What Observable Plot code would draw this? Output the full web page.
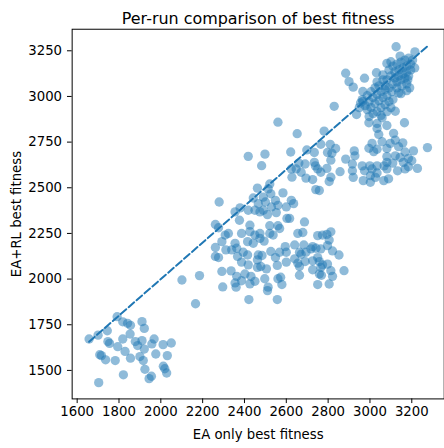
<!DOCTYPE html>
<html><head><meta charset="utf-8">
<script src="https://cdn.jsdelivr.net/npm/d3@7"></script>
<script src="https://cdn.jsdelivr.net/npm/@observablehq/plot@0.6"></script>
<style>
html,body{margin:0;padding:0;background:#fff;overflow:hidden;}
#chart{width:444px;height:448px;overflow:hidden;}
#chart [aria-label$="tick label"]{font-size:13.4px;}
</style>
</head><body><div id="chart"></div>
<script>
const titleText = "Per-run comparison of best fitness";
const xLabel = "EA only best fitness";
const yLabel = "EA+RL best fitness";
const xTicks = [1600, 1800, 2000, 2200, 2400, 2600, 2800, 3000, 3200];
const yTicks = [1500, 1750, 2000, 2250, 2500, 2750, 3000, 3250];
const diagonal = [1657, 3276];

// [EA only, EA+RL] per run
const runsLow = [[1657,1672],[1700,1693],[1744,1717],[1791,1794],[1818,1766],[1841,1758],[1855,1747],[1910,1767],[1921,1730],[1708,1586],[1747,1658],[1755,1648],[1794,1630],[1818,1672],[1853,1699],[1878,1658],[1889,1636],[1910,1663],[1921,1617],[1968,1672],[1957,1645],[2011,1641],[2050,1650],[1829,1604],[1716,1581],[1736,1558],[1782,1554],[1855,1567],[1900,1576],[1916,1554],[1976,1590],[2031,1581],[1924,1506],[2012,1523],[2019,1509],[2028,1486],[1821,1476],[1955,1468],[1944,1455],[1703,1433]];

const runsMidUpper = [[2418,2672],[2498,2684],[2482,2621],[2621,2696],[2698,2707],[2734,2693],[2660,2635],[2690,2630],[2734,2639],[2624,2603],[2647,2603],[2671,2585],[2627,2558],[2694,2553],[2726,2545],[2741,2490],[2279,2422],[2521,2521],[2513,2494],[2462,2498],[2526,2467],[2584,2472],[2442,2444],[2490,2449],[2500,2422],[2548,2431],[2560,2404],[2529,2395],[2600,2395],[2624,2431],[2635,2413],[2466,2413],[2450,2377],[2474,2368],[2490,2377],[2510,2353],[2552,2364],[2603,2332],[2616,2332],[2418,2377],[2355,2368],[2379,2390],[2376,2322],[2426,2295],[2521,2292],[2560,2292],[2568,2277],[2687,2313],[2679,2255],[2655,2250],[2261,2299],[2276,2281],[2323,2250],[2386,2250],[2450,2241],[2474,2250],[2521,2250],[2308,2241]];

const runsMidLower = [[2426,2260],[2537,2241],[2474,2223],[2292,2205],[2355,2196],[2415,2205],[2442,2196],[2494,2208],[2261,2173],[2311,2160],[2339,2160],[2363,2169],[2394,2147],[2415,2132],[2466,2132],[2484,2129],[2526,2151],[2548,2118],[2568,2147],[2600,2147],[2595,2178],[2640,2187],[2684,2187],[2726,2178],[2663,2147],[2694,2147],[2261,2124],[2276,2118],[2367,2124],[2386,2093],[2418,2078],[2462,2105],[2478,2069],[2505,2056],[2557,2075],[2600,2093],[2640,2111],[2655,2087],[2690,2096],[2726,2100],[2292,2042],[2336,2045],[2363,2015],[2402,2028],[2431,2015],[2462,2064],[2663,2021],[2726,2051],[2185,2019],[2355,1979],[2386,1991],[2426,1974],[2450,1988],[2497,2002],[2560,2002],[2573,2010],[2579,1970],[2513,1956],[2510,1937],[2296,1957],[2360,1956],[2166,1865],[2421,1888],[2557,1888],[2101,1995],
[2750,2238],[2773,2241],[2794,2245],[2813,2259],[2805,2214],[2718,2165],[2742,2169],[2765,2165],[2797,2183],[2821,2154],[2852,2132],[2671,2136],[2750,2118],[2758,2096],[2773,2078],[2797,2082],[2663,2069],[2765,2064],[2813,2046],[2876,2046],[2758,2028],[2768,2021],[2821,2015],[2750,1970],[2805,1973]];

const runsMidRight = [[2829,2946],[2560,2859],[2652,2796],[2781,2810],[2765,2738],[2810,2738],[2797,2693],[2818,2689],[2836,2715],[2813,2651],[2739,2620],[2750,2603],[2794,2606],[2765,2585],[2857,2588],[2813,2558],[2805,2534],[2758,2485],
[2966,2973],[2936,2901],[2995,2856],[3034,2852],[3081,2841],[3165,2856],[3034,2825],[3042,2792],[3113,2798],[3058,2752],[3097,2743],[3121,2761],[3157,2746],[3137,2725],[3010,2743],[2995,2716],[3018,2698],[3034,2711],[3081,2715],[3168,2696],[3208,2702],[3275,2720],[2925,2702],[2928,2675],[2884,2657],[3081,2671],[3121,2675],[3144,2666],[3184,2661],[3081,2639],[3109,2635],[3160,2639],[3200,2648],[2916,2630],[2963,2620],[2974,2593],[2999,2620],[3010,2603],[3034,2620],[3068,2620],[3081,2603],[3132,2593],[3168,2603],[3184,2615],[3227,2606],[2916,2593],[2920,2557],[2968,2539],[3002,2566],[3026,2557],[3034,2581],[3066,2539],[3089,2549],[3002,2530]];

const runsTop = [[3125,3272],[3215,3244],[3144,3221],[3100,3190],[2884,3127],[2900,3081],[2920,3051],[2974,3100],[3031,3130],[3176,3032],[3121,2919],[2966,3027],[2955,2964],[3058,2883],[3137,3019],[3081,3181],
[3091,3145],[3110,3166],[3129,3177],[3148,3188],[3167,3199],[3185,3210],[3119,3134],[3138,3145],[3157,3156],[3176,3166],[3195,3177],[3100,3112],[3119,3101],[3138,3112],[3157,3123],[3176,3134],[3195,3145],[3081,3091],[3110,3069],[3129,3080],[3148,3091],[3167,3101],[3185,3112],[3072,3058],[3091,3047],[3129,3047],[3152,3058],[3176,3069],[3105,3026],[3062,3118],[3204,3199],[3214,3156],[3181,3091],[3190,3047],[3148,3015],
[2963,2983],[2987,3004],[3005,3026],[3024,3047],[3043,3058],[2977,2950],[2996,2972],[3015,2994],[3034,3010],[3053,3026],[3072,3037],[2987,2928],[3005,2939],[3024,2961],[3043,2977],[3062,2994],[3081,3004],[3015,2906],[3034,2917],[3053,2939],[3072,2955],[3091,2972],[3110,2983],[3053,2896],[3081,2917],[3100,2939],[2996,2890],[2949,2939],[3062,3091],[3034,3080]];

const runs = [...runsLow, ...runsMidUpper, ...runsMidLower, ...runsMidRight, ...runsTop]
  .map(([ea, earl]) => ({ea, earl}));
const diag = diagonal.map(v => ({v}));

const fmt = d => String(d);
const chart = Plot.plot({
  width: 448, height: 448,
  marginLeft: 72.3, marginRight: 0.3, marginTop: 29, marginBottom: 46,
  style: {fontFamily: "DejaVu Sans", fontSize: "13.4px", color: "black", background: "white", overflow: "visible"},
  x: {domain: [1576, 3355]},
  y: {domain: [1344, 3368]},
  marks: [
    Plot.dot(runs, {x: "ea", y: "earl", r: 4.7, fill: "#1f77b4", fillOpacity: 0.5, stroke: null}),
    Plot.line(diag, {x: "v", y: "v", stroke: "#1f77b4", strokeWidth: 2, strokeDasharray: "7.4,3.2"}),
    Plot.frame({stroke: "black", strokeWidth: 1}),
    Plot.axisX({ticks: xTicks, tickFormat: fmt, tickSize: 4.7, tickPadding: 3.5, label: null, fontSize: 13.4}),
    Plot.axisY({ticks: yTicks, tickFormat: fmt, tickSize: 4.7, tickPadding: 5.5, label: null, fontSize: 13.4}),
    Plot.text([xLabel], {frameAnchor: "bottom", dy: 40, text: d => d, fill: "black", fontSize: 13.4, textAnchor: "middle"}),
    Plot.text([yLabel], {frameAnchor: "left", dx: -56, rotate: -90, text: d => d, fill: "black", fontSize: 13.4, textAnchor: "middle"}),
    Plot.text([titleText], {frameAnchor: "top", dy: -17, text: d => d, fill: "black", fontSize: 16.1, textAnchor: "middle"})
  ]
});
document.getElementById("chart").appendChild(chart);
</script>
</body></html>
